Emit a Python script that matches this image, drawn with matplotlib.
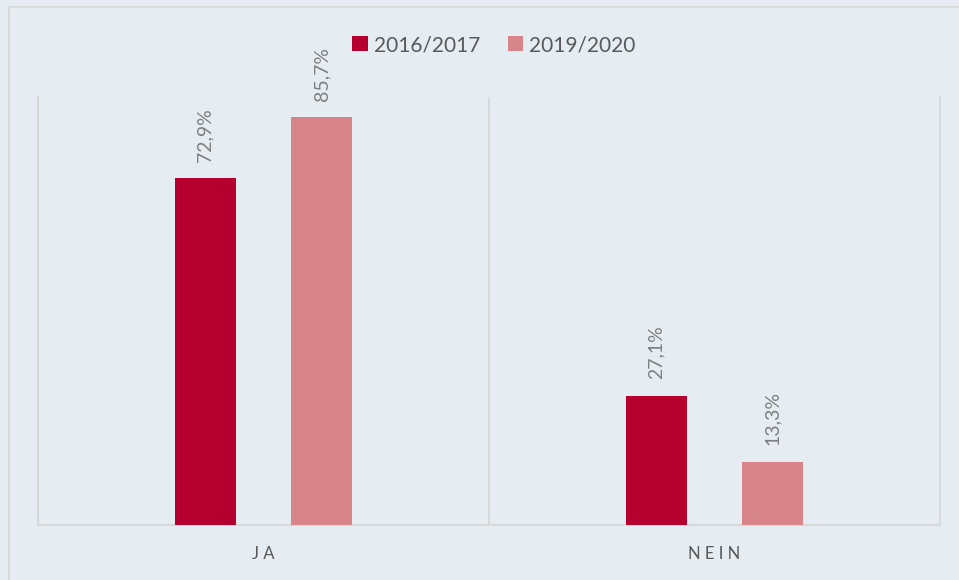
import matplotlib
matplotlib.use("Agg")
import matplotlib.pyplot as plt
import numpy as np
from matplotlib.patches import Rectangle

categories = ["J A", "N E I N"]
series_names = ["2016/2017", "2019/2020"]
values_2016 = [72.9, 27.1]
values_2019 = [85.7, 13.3]
colors = ["#B5002F", "#D8858A"]
label_2016 = ["72,9%", "27,1%"]
label_2019 = ["85,7%", "13,3%"]

plt.rcParams['font.family'] = ['Lato', 'DejaVu Sans']

W, H = 959, 580
fig = plt.figure(figsize=(W / 100, H / 100), dpi=100)
bg = "#E5EDF3"
fig.patch.set_facecolor(bg)
fig.patches.append(Rectangle((9 / W, -0.1), 1.2, (H - 7) / H + 0.1, transform=fig.transFigure,
                             fill=False, edgecolor="#D9D9D9", linewidth=1.5, zorder=0))

ax = fig.add_axes([38 / W, (H - 525) / H, (940 - 38) / W, (525 - 97) / H])
ax.set_facecolor(bg)

x = np.arange(len(categories))
offset = 0.129
width = 0.135
b1 = ax.bar(x - offset, values_2016, width, color=colors[0], label=series_names[0], zorder=3)
b2 = ax.bar(x + offset, values_2019, width, color=colors[1], label=series_names[1], zorder=3)

for bars, labs in ((b1, label_2016), (b2, label_2019)):
    for rect, lab in zip(bars, labs):
        ax.annotate(lab, (rect.get_x() + rect.get_width() / 2, rect.get_height()),
                    xytext=(0, 12), textcoords="offset points", rotation=90,
                    ha="center", va="bottom", color="#7F7F7F", fontsize=14)

ax.set_xlim(-0.5, 1.5)
ax.set_ylim(0, 90)
ax.set_yticks([])
ax.set_xticks(x)
ax.set_xticklabels(categories, color="#595959", fontsize=12)
ax.tick_params(axis="x", length=0, pad=15)
for s in ("top",):
    ax.spines[s].set_visible(False)
for s in ("left", "right", "bottom"):
    ax.spines[s].set_color("#D9D9D9")
    ax.spines[s].set_linewidth(1.5)
ax.axvline(0.5, color="#D9D9D9", linewidth=1.5, zorder=1)

leg = fig.legend(loc="center", bbox_to_anchor=(494 / W, (H - 45) / H), ncol=2, frameon=False,
                 fontsize=15, handlelength=0.75, handleheight=0.75, handletextpad=0.3,
                 columnspacing=1.3, labelcolor="#595959")

fig.savefig("out.png", dpi=100, facecolor=bg)
